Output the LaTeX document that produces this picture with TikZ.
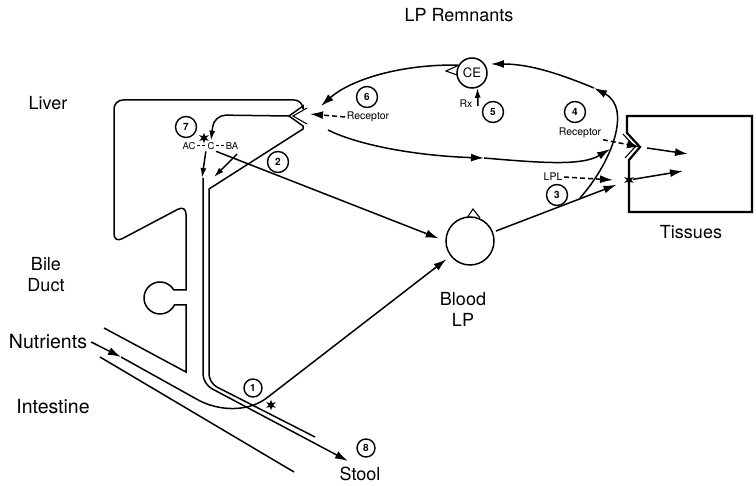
\documentclass[tikz,border=0pt]{standalone}
\usepackage{fontspec}
\setmainfont{TeX Gyre Heros}
\usetikzlibrary{arrows.meta,shapes.geometric}

\begin{document}
\begin{tikzpicture}[x=1pt,y=-1pt,line width=1.5pt,font=\fontsize{18}{21}\selectfont,
  >={Latex[length=13pt,width=8pt]},
  sm/.style={font=\fontsize{10.5}{11}\selectfont,inner sep=1pt},
  xs/.style={font=\fontsize{9.5}{10}\selectfont,inner sep=1pt},
  num/.style={draw,circle,line width=1.4pt,inner sep=0pt,minimum size=#1,font=\fontsize{10}{10}\selectfont\bfseries},
  num/.default=21pt,
  pool/.style={draw,circle,inner sep=0pt,minimum size=#1},
  star6/.style={star,star points=6,star point ratio=2.4,fill,inner sep=0pt,minimum size=11pt},
  recv/.style={dash pattern=on 5pt off 3pt,->},
  sa/.style={-{Latex[length=10pt,width=6pt]}}]
  \useasboundingbox (0,0) rectangle (756,486);
  % ---------- labels
  \node (remn) at (459,15) {LP Remnants};
  \node (liv) at (48,103) {Liver};
  \node[align=center] (bile) at (46,275) {Bile\\Duct};
  \node[font=\fontsize{19.5}{21}\selectfont] (nut) at (48,342) {Nutrients};
  \node[font=\fontsize{19.5}{21}\selectfont] (intl) at (53,407) {Intestine};
  \node[align=center] (bl) at (463,309) {Blood\\LP};
  \node (tis) at (691,232) {Tissues};
  \node (stool) at (360,474) {Stool};
  % ---------- liver, gall bladder and intestine wall
  \draw (104,328) -- (186,372) -- (186,305) -- (174.4,305)
    arc[start angle=26,end angle=330,radius=16] -- (186,290)
    [rounded corners=9pt] -- (186,205) -- (114,243) -- (114,100) -- (303,100)
    [sharp corners] -- (303,106) -- (289,116) -- (303,126) -- (303,129)
    -- (209,189) [rounded corners=9pt] -- (209,383) -- (315,437);
  \draw[line width=1.1pt] (307,108) -- (293,116) -- (307,124);
  \coordinate (vt) at (289,116);
  \coordinate (ductin) at (203,178);
  \coordinate (stl) at (348,461);
  \draw[rounded corners=10pt,->] (ductin) -- (203,384) -- (stl);
  \draw (100,357) -- (294,472);
  % ---------- inside the liver
  \node[num] (n7) at (186,127) {7};
  \node[star6] (st7) at (204,138) {};
  \node[xs] (ac) at (189,146) {AC};
  \node[xs] (c) at (211,146) {C};
  \node[xs] (ba) at (232,146) {BA};
  \draw[line width=1pt,dash pattern=on 3pt off 2pt] (ac) -- (c);
  \draw[line width=1pt,dash pattern=on 3pt off 2pt] (c) -- (ba);
  \draw[sa,rounded corners=12pt] (vt) -- (214,115) -- (c.north);
  \coordinate (dt1) at (202,178);
  \coordinate (dt2) at (214,177);
  \draw[sa] (c.south west) -- (dt1);
  \draw[sa,shorten <=4pt] (ba.south east) -- (dt2);
  % ---------- blood pool
  \node[pool=48pt] (blood) at (470,241) {};
  \draw[line width=1.1pt] (467,218) -- (473,209) -- (480,218);
  \draw[->,shorten >=7pt] (c.south east) -- (blood.west);
  \node[num] (n2) at (278,162) {2};
  % nutrients through the gut
  \coordinate (na) at (121,357);
  \draw[->] (nut.east) -- (na);
  \draw[->,shorten >=5pt] (na) -- (200,401) .. controls (225,413) and (252,410) .. (268,397) -- (blood);
  \node[star6] (st1) at (271,405) {};
  \node[num=18pt] (n1) at (253,388) {1};
  \node[num=18pt] (n8) at (366,448) {8};
  % ---------- remnants
  \node[pool=30pt,font=\fontsize{13}{13}\selectfont] (ce) at (472,73) {CE};
  \draw[line width=1.1pt] (457,66) -- (446,71) -- (457,75);
  \coordinate (rxa) at (478,106);
  \node[sm] (rx) at (466,104) {Rx};
  \draw[sa] (rxa) -- (ce.-70);
  \node[num] (n5) at (493,112) {5};
  \coordinate (nl) at (321,106);
  \draw[->] (ce.150) .. controls (400,64) and (350,80) .. (nl);
  \node[num] (n6) at (367,97) {6};
  \node[sm] (rec6) at (368,117) {Receptor};
  \draw[recv] (rec6.west) -- (310,114);
  \coordinate (ldl) at (328,130);
  \coordinate (lm) at (484,158);
  \coordinate (tn) at (610,149);
  \draw[->] (ldl) .. controls (360,146) and (420,156) .. (lm);
  \draw[->] (lm) .. controls (542,163) and (582,166) .. (tn);
  % ---------- tissues
  \draw[line width=2.2pt] (752,116) -- (627,116) -- (627,133) -- (640,147) -- (629,160) -- (629,212) -- (752,212) -- cycle;
  \draw[line width=1.1pt] (623,134) -- (635,147) -- (625,158);
  \coordinate (tv) at (640,147);
  \node[star6] (tst) at (629,180) {};
  \draw[->] (647,148) -- (688,154);
  \draw[->] (tst) -- (683,171);
  \coordinate (br) at (580,198);
  \draw[->,shorten <=3pt,shorten >=8pt] (blood) -- (tst);
  \coordinate (ka) at (594,88);
  \draw[->] (br) .. controls (612,162) and (632,108) .. (ka);
  \draw[->,shorten >=6pt] (ka) .. controls (560,74) and (530,64) .. (ce.35);
  \node[num] (n4) at (575,112) {4};
  \node[sm] (rec4) at (580,133) {Receptor};
  \draw[recv] (rec4.south east) -- (tv);
  \node[sm] (lpl) at (553,177) {LPL};
  \coordinate (lpt) at (613,180);
  \draw[recv] (lpl.east) -- (lpt);
  \node[num] (n3) at (557,195) {3};
\end{tikzpicture}
\end{document}
